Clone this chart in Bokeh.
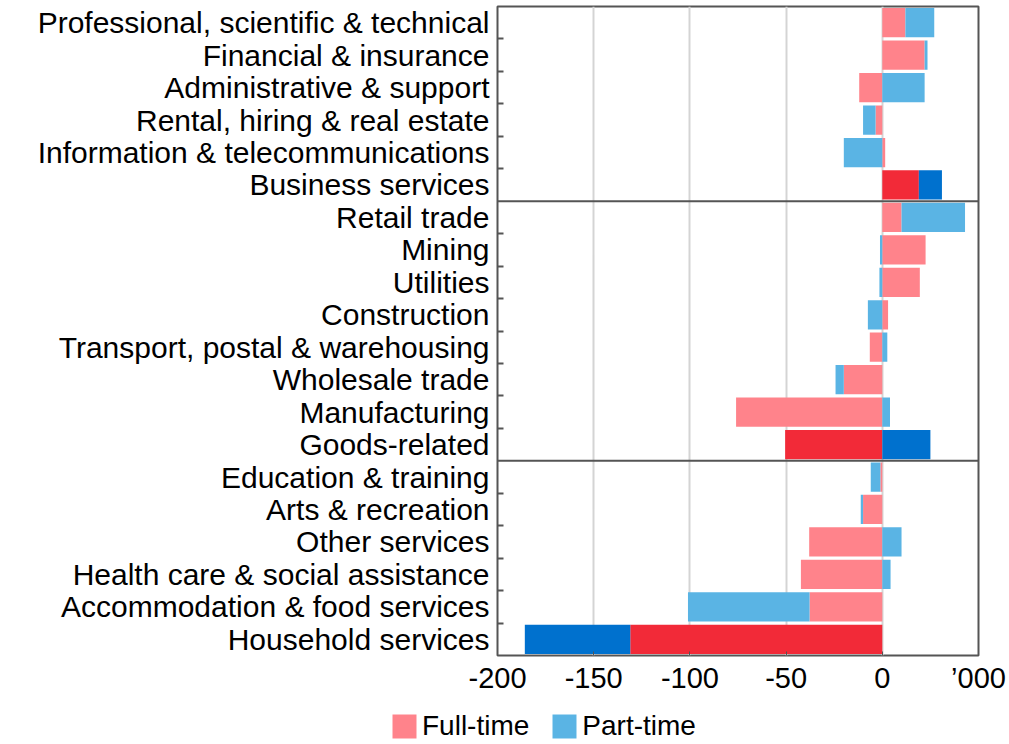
from bokeh.plotting import figure
from bokeh.layouts import column
from bokeh.models import (ColumnDataSource, Range1d, FixedTicker, Span, Legend, LegendItem)
from bokeh.embed import file_html
from bokeh.resources import INLINE

categories = [
    "Professional, scientific & technical", "Financial & insurance",
    "Administrative & support", "Rental, hiring & real estate",
    "Information & telecommunications", "Business services",
    "Retail trade", "Mining", "Utilities", "Construction",
    "Transport, postal & warehousing", "Wholesale trade", "Manufacturing",
    "Goods-related",
    "Education & training", "Arts & recreation", "Other services",
    "Health care & social assistance", "Accommodation & food services",
    "Household services",
]
full_time = [12, 22, -12, -3.5, 1.5, 19,
             10, 22.5, 19.5, 3, -6.5, -20, -76, -50.5,
             -1, -10, -38, -42.3, -37.8, -131]
part_time = [15, 1.5, 22, -6.5, -20, 12,
             33, -1.2, -1.5, -7.5, 2.6, -4.3, 4, 25,
             -5, -1.2, 10, 4.3, -63.2, -54.8]
is_total = [0, 0, 0, 0, 0, 1,
            0, 0, 0, 0, 0, 0, 0, 1,
            0, 0, 0, 0, 0, 1]
series_names = ["Full-time", "Part-time"]
x_ticks = [-200, -150, -100, -50, 0, 50]
x_tick_labels = ["-200", "-150", "-100", "-50", "0", "\u2019000"]

FT_LIGHT, FT_DARK = "#FF838B", "#F22A38"
PT_LIGHT, PT_DARK = "#5AB4E4", "#0071CE"
FONT = "Liberation Sans"

n = len(categories)
ys = list(range(n))
ft_l, ft_r, pt_l, pt_r = [], [], [], []
for f, pt in zip(full_time, part_time):
    pos, neg = 0.0, 0.0
    if f >= 0:
        ft_l.append(pos); ft_r.append(pos + f); pos += f
    else:
        ft_l.append(neg + f); ft_r.append(neg); neg += f
    if pt >= 0:
        pt_l.append(pos); pt_r.append(pos + pt); pos += pt
    else:
        pt_l.append(neg + pt); pt_r.append(neg); neg += pt

src = ColumnDataSource(dict(
    y=ys, ft_l=ft_l, ft_r=ft_r, pt_l=pt_l, pt_r=pt_r,
    ft_c=[FT_DARK if t else FT_LIGHT for t in is_total],
    pt_c=[PT_DARK if t else PT_LIGHT for t in is_total],
))

p = figure(width=1006, height=700, output_backend="svg", toolbar_location=None,
           x_range=Range1d(-200, 50), y_range=Range1d(n - 0.5, -0.5),
           min_border_left=497, min_border_right=28, min_border_top=6,
           min_border_bottom=45)
p.frame_align = False

p.hbar(y="y", left="ft_l", right="ft_r", height=0.9, source=src,
       fill_color="ft_c", line_color=None)
p.hbar(y="y", left="pt_l", right="pt_r", height=0.9, source=src,
       fill_color="pt_c", line_color=None)

# group separators
group_ends = [i for i, t in enumerate(is_total) if t][:-1]
for g in group_ends:
    p.add_layout(Span(location=g + 0.5, dimension="width",
                      line_color="#555555", line_width=2))

p.outline_line_color = "#555555"
p.outline_line_width = 2
p.background_fill_color = "white"

# x axis
p.xaxis.ticker = FixedTicker(ticks=x_ticks)
p.xaxis.major_label_overrides = {t: l for t, l in zip(x_ticks, x_tick_labels)}
p.xaxis.major_label_text_font = FONT
p.xaxis.major_label_text_font_size = "29px"
p.xaxis.major_label_text_color = "black"
p.xaxis.axis_line_color = None
p.xaxis.major_tick_in = 4
p.xaxis.major_tick_out = 0
p.xaxis.major_tick_line_color = "#555555"
p.xaxis.minor_tick_line_color = None
p.xaxis.major_label_standoff = 6

# y axis
boundaries = [i + 0.5 for i in range(n - 1) if i not in group_ends]
p.yaxis.ticker = FixedTicker(ticks=ys, minor_ticks=boundaries)
p.yaxis.major_label_overrides = {i: c for i, c in enumerate(categories)}
p.yaxis.major_label_text_font = FONT
p.yaxis.major_label_text_font_size = "30px"
p.yaxis.major_label_text_color = "black"
p.yaxis.axis_line_color = None
p.yaxis.major_tick_line_color = None
p.yaxis.minor_tick_in = 6
p.yaxis.minor_tick_out = 0
p.yaxis.minor_tick_line_color = "#555555"
p.yaxis.minor_tick_line_width = 2
p.yaxis.major_label_standoff = 2

p.ygrid.grid_line_color = None
p.xgrid.grid_line_color = "#D4D4D4"
p.xgrid.grid_line_width = 2

# legend strip below the chart (legend swatches reuse the chart's own renderers' styling)
q = figure(width=1006, height=42, output_backend="svg", toolbar_location=None,
           x_range=Range1d(-200, 50), y_range=Range1d(n - 0.5, -0.5),
           min_border_left=0, min_border_right=0, min_border_top=0,
           min_border_bottom=0)
q.frame_align = False
q.axis.visible = False
q.grid.visible = False
q.outline_line_color = None
lf = q.hbar(y="y", left="ft_l", right="ft_r", height=0.9, source=src,
            fill_color="ft_c", line_color=None, visible=False)
lp = q.hbar(y="y", left="pt_l", right="pt_r", height=0.9, source=src,
            fill_color="pt_c", line_color=None, visible=False)
legend = Legend(items=[
    LegendItem(label=series_names[0], renderers=[lf], index=0),
    LegendItem(label=series_names[1], renderers=[lp], index=0),
], orientation="horizontal", location=(389, 0))
legend.margin = 0
legend.padding = 0
legend.border_line_color = None
legend.background_fill_alpha = 0
legend.glyph_width = 30
legend.glyph_height = 30
legend.label_height = 30
legend.label_standoff = 3
legend.spacing = 20
legend.label_text_font = FONT
legend.label_text_font_size = "28px"
legend.label_text_color = "black"
q.add_layout(legend)

open("out.html", "w").write(file_html(column(p, q, spacing=0), INLINE))
